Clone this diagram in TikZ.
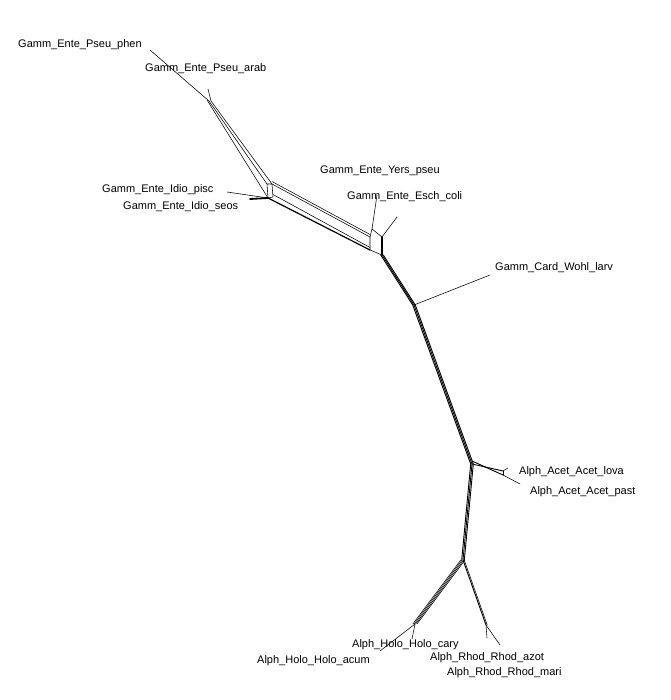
\documentclass[tikz,border=0pt]{standalone}
\usepackage{fontspec}
\setmainfont{Liberation Sans}
\begin{document}
\begin{tikzpicture}[x=1pt,y=-1pt,
  edge/.style={line width=0.55pt, line cap=round, line join=round},
  strong/.style={line width=0.9pt, line cap=round, line join=round},
  heavy/.style={line width=1.8pt, line cap=round},
  taxon/.style={font=\fontsize{11}{13}\selectfont, anchor=west, inner sep=0pt}]
\useasboundingbox (0,0) rectangle (670,700);

% ---- taxon labels ----
\node[taxon] (lphen) at (18,45)  {Gamm\_Ente\_Pseu\_phen};
\node[taxon] (larab) at (145,69) {Gamm\_Ente\_Pseu\_arab};
\node[taxon] (lyers) at (320,171) {Gamm\_Ente\_Yers\_pseu};
\node[taxon] (lesch) at (347,197) {Gamm\_Ente\_Esch\_coli};
\node[taxon] (lpisc) at (102,190) {Gamm\_Ente\_Idio\_pisc};
\node[taxon] (lseos) at (123,207) {Gamm\_Ente\_Idio\_seos};
\node[taxon] (lwohl) at (495,268) {Gamm\_Card\_Wohl\_larv};
\node[taxon] (llova) at (519,472) {Alph\_Acet\_Acet\_lova};
\node[taxon] (lpast) at (530,492) {Alph\_Acet\_Acet\_past};
\node[taxon] (lcary) at (352,645) {Alph\_Holo\_Holo\_cary};
\node[taxon] (lacum) at (257,661) {Alph\_Holo\_Holo\_acum};
\node[taxon] (lazot) at (430,658) {Alph\_Rhod\_Rhod\_azot};
\node[taxon] (lmari) at (447,673) {Alph\_Rhod\_Rhod\_mari};

% ---- leaf tips ----
\coordinate (tphen) at (150,50);
\coordinate (tarab) at (208,89);
\coordinate (tyers) at (377,195);
\coordinate (tesch) at (397,217);
\coordinate (tpisc) at (227,192);
\coordinate (tseos) at (250,199);
\coordinate (twohl) at (490,275);
\coordinate (tlova) at (508,468);
\coordinate (tpast) at (520,484);
\coordinate (tcary) at (412,639);
\coordinate (tacum) at (380,651);
\coordinate (tazot) at (487,638);
\coordinate (tmari) at (500,645);

% ---- internal vertices ----
\coordinate (pseu)  at (209,101);
\coordinate (pseuL) at (207,100);
\coordinate (pseuR) at (211,101);
\coordinate (idA) at (267,184);
\coordinate (idB) at (272,184);
\coordinate (idC) at (268,198);
\coordinate (idD) at (273,197);
\coordinate (yrA) at (372,229);
\coordinate (yrB) at (370,237);
\coordinate (yrC) at (382,237);
\coordinate (yrD) at (370,250);
\coordinate (yrE) at (382,255);
\coordinate (wohl) at (414,305);
\coordinate (acet) at (472,464);
\coordinate (acA) at (503,471);
\coordinate (acB) at (503,475);
\coordinate (hub) at (463,560);
\coordinate (holo) at (415,624);
\coordinate (rhod) at (486,625);

% ---- Pseudomonas part ----
\draw[edge] (tphen) -- (pseu);
\draw[edge] (tarab) -- (pseuR);
\draw[edge] (pseuL) -- (idC);
\draw[edge] (pseu) -- (idA);
\draw[edge] (pseuR) -- (idB);

% ---- Idiomarina box and leaves ----
\draw[edge] (idA) -- (idB) -- (idD) -- (idC) -- cycle;
\draw[edge] (tpisc) -- (idC);
\draw[heavy] (tseos) -- (idC);

% ---- bands between the two Enterobacteria boxes ----
\draw[edge] (idB) -- (yrB);
\draw[edge] ([yshift=2.5pt]idB) -- ([yshift=2.5pt]yrB);
\draw[line width=1.2pt] (idC) -- (yrD);
\draw[edge] ([yshift=2.5pt]idD) -- ([yshift=2.5pt]yrD);

% ---- Yersinia / Escherichia box ----
\draw[edge] (tyers) -- (yrA);
\draw[edge] (yrB) -- (yrA) -- (yrC);
\draw[edge] (tesch) -- (yrC);
\draw[edge] (yrB) -- (yrD) -- (yrE);
\draw[heavy] (yrC) -- (yrE);

% ---- main trunk ----
\foreach \d in {-1.3,0,1.3}{
  \draw[strong] ([xshift=\d pt]yrE) -- ([xshift=\d pt]wohl);
  \draw[strong] ([xshift=\d pt]wohl) -- ([xshift=\d pt]acet);
  \draw[strong] ([xshift=\d pt]acet) -- ([xshift=\d pt]hub);
}
\draw[edge] (wohl) -- (twohl);

% ---- Acetobacter ----
\draw[strong] (acet) -- (acA);
\draw[strong] ([yshift=3pt]acet) -- (acB);
\draw[edge] (acA) -- (acB);
\draw[edge] (acA) -- (tlova);
\draw[edge] (acB) -- (tpast);

% ---- Holosporaceae band ----
\foreach \d in {-2.2,-0.8,0.6,2}{
  \draw[edge] ([xshift=\d pt]hub) -- ([xshift=\d pt]holo);
}
\draw[edge] (holo) -- (tcary);
\draw[edge] (holo) -- (tacum);

% ---- Rhodobacteraceae ----
\draw[strong] (hub) -- (rhod);
\draw[edge] ([xshift=1.2pt]hub) -- ([xshift=1.2pt]rhod);
\draw[edge] (rhod) -- (tazot);
\draw[edge] (rhod) -- (tmari);
\end{tikzpicture}
\end{document}
